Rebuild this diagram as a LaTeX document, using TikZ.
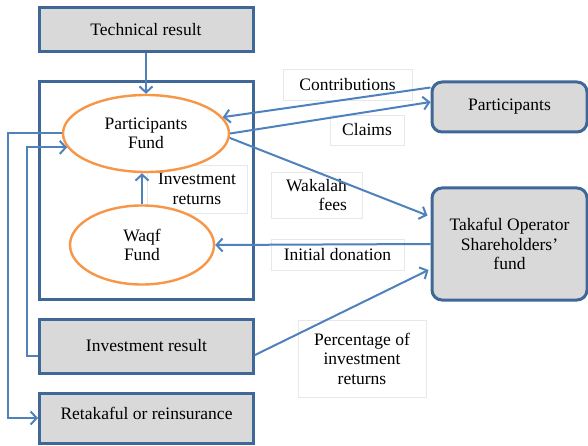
\documentclass[tikz,border=0pt]{standalone}
\usepackage{fontspec}
\setmainfont{Liberation Serif}
\usetikzlibrary{arrows.meta,shapes.geometric,calc}
\definecolor{linkblue}{HTML}{4F81BD}
\definecolor{boxblue}{HTML}{3F6797}
\definecolor{fundorange}{HTML}{F79646}
\definecolor{boxgray}{HTML}{D9D9D9}

\begin{document}
\begin{tikzpicture}[x=1pt,y=-1pt,
        font=\fontsize{17.5}{19.5}\selectfont,
        >={Straight Barb[length=6pt,width=13pt]},
        link/.style={->,draw=linkblue,line width=2pt},
        result/.style={draw=boxblue,line width=3pt,fill=boxgray,
          minimum width=214pt,minimum height=44pt,inner sep=0pt},
        party/.style={result,rounded corners=10pt,minimum width=155pt,align=center},
        fund/.style={ellipse,draw=fundorange,line width=2.4pt,fill=white,
          align=center,inner sep=0pt},
        lbl/.style={draw=black!9,fill=white,align=center,inner sep=0pt}]

  \useasboundingbox (0,0) rectangle (588,446);

  % labels of the flows
  \node[lbl,minimum width=129pt,minimum height=31pt] (lcontr) at (347.5,84.5) {Contributions};
  \node[lbl,minimum width=74pt,minimum height=30pt] (lclaims) at (367,130) {Claims};
  \node[lbl,minimum width=91pt,minimum height=46pt,align=right] (lwak) at (316.5,195) {Wakalah\\fees};
  \node[lbl,minimum width=133pt,minimum height=31pt] (ldon) at (337.5,254.5) {Initial donation};
  \node[lbl,minimum width=128pt,minimum height=77pt] (lpct) at (362,358.5) {Percentage of\\investment\\returns};

  % takaful fund
  \node[draw=boxblue,line width=3pt,minimum width=214pt,minimum height=217pt] (pool) at (146,190.5) {};
  \node[lbl,minimum width=100pt,minimum height=48pt] (linv) at (197,189) {Investment\\returns};
  \node[fund,minimum width=166pt,minimum height=77pt] (pf) at (146,133.5) {Participants\\Fund};
  \node[fund,minimum width=144pt,minimum height=79pt] (waqf) at (142,245) {Waqf\\Fund};

  \node[result] (tech) at (146,30) {Technical result};
  \node[result,minimum height=54pt] (invres) at (146.5,346) {Investment result};
  \node[result,minimum height=50pt,text depth=10pt] (retak) at (146.5,418) {Retakaful or reinsurance};
  \node[party,minimum height=50pt] (part) at (509.5,107) {Participants};
  \node[party,minimum height=112pt] (tko) at (509.5,244) {Takaful Operator\\Shareholders’\\fund};

  \coordinate (outerx) at (8,0);
  \coordinate (innerx) at (27,0);

  \draw[link] (tech) -- (pf);
  \draw[link] (waqf.north) -- (waqf.north |- pf.south);
  \draw[link] ($(part.north west)+(0,7)$) -- (pf.12);
  \draw[link] (pf.east) -- ($(part.west)+(0,-5)$);
  \draw[link] (pf.-3) -- ($(tko.north west)+(-3,29)$);
  \draw[link] (tko.west) -- (waqf.east);
  \draw[link] ($(invres.east)+(0,9)$) -- ($(tko.west)+(-2,26)$);
  \draw[link] (pf.west) -| (outerx |- retak.west) -- (retak.west);
  \draw[link] ($(invres.west)+(0,10)$) -| (innerx |- pf.190) -- (pf.190);

\end{tikzpicture}
\end{document}
